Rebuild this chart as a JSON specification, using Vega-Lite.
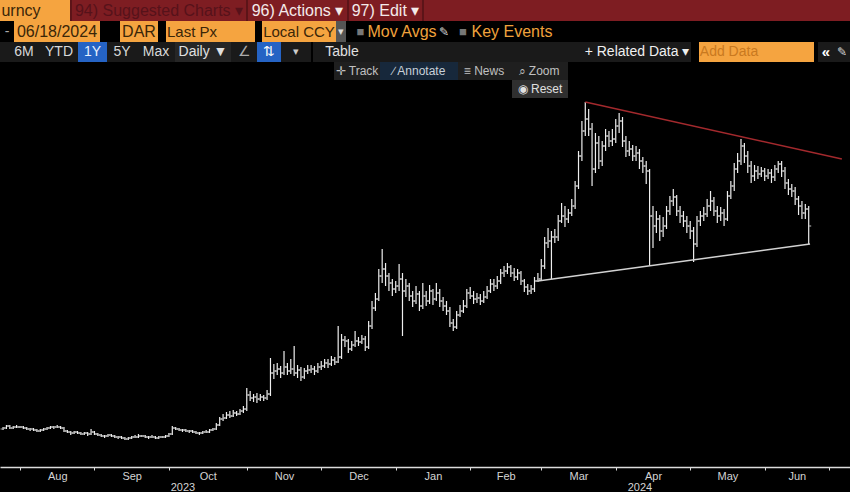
{
"$schema":"https://vega.github.io/schema/vega-lite/v6.json",
"background":"#000000","padding":0,"spacing":0,
"config":{"view":{"stroke":null},"concat":{"spacing":0},"text":{"font":"Liberation Sans"}},
"datasets":{
"bars":[
{"i":-5,"o":0.142,"h":0.144,"l":0.141,"c":0.143},{"i":-4,"o":0.143,"h":0.146,"l":0.142,"c":0.145},{"i":-3,"o":0.145,"h":0.146,"l":0.142,"c":0.143},{"i":-2,"o":0.143,"h":0.145,"l":0.142,"c":0.144},{"i":-1,"o":0.144,"h":0.146,"l":0.143,"c":0.144},
{"i":0,"o":0.144,"h":0.145,"l":0.143,"c":0.144},{"i":1,"o":0.144,"h":0.145,"l":0.142,"c":0.143},{"i":2,"o":0.143,"h":0.144,"l":0.141,"c":0.142},{"i":3,"o":0.142,"h":0.143,"l":0.140,"c":0.142},{"i":4,"o":0.142,"h":0.143,"l":0.140,"c":0.141},
{"i":5,"o":0.141,"h":0.142,"l":0.139,"c":0.140},{"i":6,"o":0.140,"h":0.142,"l":0.139,"c":0.141},{"i":7,"o":0.141,"h":0.143,"l":0.140,"c":0.142},{"i":8,"o":0.142,"h":0.144,"l":0.141,"c":0.143},{"i":9,"o":0.143,"h":0.145,"l":0.142,"c":0.144},
{"i":10,"o":0.144,"h":0.145,"l":0.142,"c":0.144},{"i":11,"o":0.144,"h":0.146,"l":0.143,"c":0.144},{"i":12,"o":0.144,"h":0.145,"l":0.142,"c":0.143},{"i":13,"o":0.143,"h":0.144,"l":0.139,"c":0.140},{"i":14,"o":0.140,"h":0.141,"l":0.138,"c":0.139},
{"i":15,"o":0.139,"h":0.140,"l":0.136,"c":0.138},{"i":16,"o":0.138,"h":0.140,"l":0.137,"c":0.139},{"i":17,"o":0.139,"h":0.140,"l":0.137,"c":0.138},{"i":18,"o":0.138,"h":0.139,"l":0.136,"c":0.137},{"i":19,"o":0.137,"h":0.139,"l":0.136,"c":0.138},
{"i":20,"o":0.138,"h":0.139,"l":0.135,"c":0.137},{"i":21,"o":0.137,"h":0.142,"l":0.136,"c":0.139},{"i":22,"o":0.139,"h":0.140,"l":0.136,"c":0.137},{"i":23,"o":0.137,"h":0.138,"l":0.135,"c":0.136},{"i":24,"o":0.136,"h":0.137,"l":0.134,"c":0.135},
{"i":25,"o":0.135,"h":0.136,"l":0.133,"c":0.135},{"i":26,"o":0.135,"h":0.137,"l":0.134,"c":0.136},{"i":27,"o":0.136,"h":0.137,"l":0.134,"c":0.135},{"i":28,"o":0.135,"h":0.136,"l":0.133,"c":0.134},{"i":29,"o":0.134,"h":0.135,"l":0.132,"c":0.134},
{"i":30,"o":0.134,"h":0.135,"l":0.132,"c":0.133},{"i":31,"o":0.133,"h":0.134,"l":0.131,"c":0.132},{"i":32,"o":0.132,"h":0.134,"l":0.131,"c":0.133},{"i":33,"o":0.133,"h":0.135,"l":0.132,"c":0.134},{"i":34,"o":0.134,"h":0.136,"l":0.133,"c":0.134},
{"i":35,"o":0.134,"h":0.137,"l":0.133,"c":0.135},{"i":36,"o":0.135,"h":0.136,"l":0.134,"c":0.135},{"i":37,"o":0.135,"h":0.136,"l":0.133,"c":0.134},{"i":38,"o":0.134,"h":0.135,"l":0.132,"c":0.134},{"i":39,"o":0.134,"h":0.136,"l":0.133,"c":0.134},
{"i":40,"o":0.134,"h":0.135,"l":0.132,"c":0.133},{"i":41,"o":0.133,"h":0.135,"l":0.132,"c":0.134},{"i":42,"o":0.134,"h":0.135,"l":0.133,"c":0.134},{"i":43,"o":0.134,"h":0.136,"l":0.133,"c":0.135},{"i":44,"o":0.135,"h":0.138,"l":0.134,"c":0.137},
{"i":45,"o":0.137,"h":0.145,"l":0.136,"c":0.143},{"i":46,"o":0.143,"h":0.144,"l":0.141,"c":0.142},{"i":47,"o":0.142,"h":0.143,"l":0.140,"c":0.141},{"i":48,"o":0.141,"h":0.142,"l":0.139,"c":0.141},{"i":49,"o":0.141,"h":0.142,"l":0.139,"c":0.140},
{"i":50,"o":0.140,"h":0.141,"l":0.138,"c":0.140},{"i":51,"o":0.140,"h":0.141,"l":0.138,"c":0.139},{"i":52,"o":0.139,"h":0.140,"l":0.137,"c":0.138},{"i":53,"o":0.138,"h":0.139,"l":0.136,"c":0.138},{"i":54,"o":0.138,"h":0.140,"l":0.137,"c":0.139},
{"i":55,"o":0.139,"h":0.141,"l":0.138,"c":0.139},{"i":56,"o":0.139,"h":0.142,"l":0.138,"c":0.141},{"i":57,"o":0.141,"h":0.143,"l":0.140,"c":0.142},{"i":58,"o":0.142,"h":0.148,"l":0.141,"c":0.146},{"i":59,"o":0.146,"h":0.154,"l":0.145,"c":0.152},
{"i":60,"o":0.152,"h":0.157,"l":0.150,"c":0.153},{"i":61,"o":0.153,"h":0.159,"l":0.152,"c":0.156},{"i":62,"o":0.156,"h":0.160,"l":0.153,"c":0.155},{"i":63,"o":0.155,"h":0.161,"l":0.154,"c":0.158},{"i":64,"o":0.158,"h":0.160,"l":0.155,"c":0.157},
{"i":65,"o":0.157,"h":0.162,"l":0.156,"c":0.160},{"i":66,"o":0.160,"h":0.165,"l":0.158,"c":0.162},{"i":67,"o":0.162,"h":0.183,"l":0.160,"c":0.176},{"i":68,"o":0.176,"h":0.180,"l":0.170,"c":0.173},{"i":69,"o":0.173,"h":0.177,"l":0.169,"c":0.174},
{"i":70,"o":0.174,"h":0.178,"l":0.168,"c":0.172},{"i":71,"o":0.172,"h":0.177,"l":0.170,"c":0.174},{"i":72,"o":0.174,"h":0.176,"l":0.170,"c":0.173},{"i":73,"o":0.173,"h":0.181,"l":0.171,"c":0.177},{"i":74,"o":0.177,"h":0.213,"l":0.175,"c":0.198},
{"i":75,"o":0.198,"h":0.207,"l":0.192,"c":0.200},{"i":76,"o":0.200,"h":0.208,"l":0.196,"c":0.202},{"i":77,"o":0.202,"h":0.205,"l":0.193,"c":0.198},{"i":78,"o":0.198,"h":0.220,"l":0.196,"c":0.204},{"i":79,"o":0.204,"h":0.208,"l":0.196,"c":0.200},
{"i":80,"o":0.200,"h":0.212,"l":0.197,"c":0.202},{"i":81,"o":0.202,"h":0.225,"l":0.195,"c":0.198},{"i":82,"o":0.198,"h":0.206,"l":0.193,"c":0.201},{"i":83,"o":0.201,"h":0.204,"l":0.190,"c":0.194},{"i":84,"o":0.194,"h":0.203,"l":0.192,"c":0.200},
{"i":85,"o":0.200,"h":0.206,"l":0.197,"c":0.201},{"i":86,"o":0.201,"h":0.206,"l":0.198,"c":0.202},{"i":87,"o":0.202,"h":0.205,"l":0.196,"c":0.200},{"i":88,"o":0.200,"h":0.208,"l":0.198,"c":0.204},{"i":89,"o":0.204,"h":0.210,"l":0.201,"c":0.205},
{"i":90,"o":0.205,"h":0.212,"l":0.203,"c":0.208},{"i":91,"o":0.208,"h":0.212,"l":0.203,"c":0.207},{"i":92,"o":0.207,"h":0.215,"l":0.205,"c":0.211},{"i":93,"o":0.211,"h":0.214,"l":0.206,"c":0.209},{"i":94,"o":0.209,"h":0.245,"l":0.208,"c":0.214},
{"i":95,"o":0.214,"h":0.237,"l":0.212,"c":0.231},{"i":96,"o":0.231,"h":0.235,"l":0.224,"c":0.230},{"i":97,"o":0.230,"h":0.232,"l":0.218,"c":0.222},{"i":98,"o":0.222,"h":0.230,"l":0.220,"c":0.226},{"i":99,"o":0.226,"h":0.240,"l":0.224,"c":0.230},
{"i":100,"o":0.230,"h":0.234,"l":0.225,"c":0.229},{"i":101,"o":0.229,"h":0.236,"l":0.227,"c":0.232},{"i":102,"o":0.232,"h":0.235,"l":0.220,"c":0.224},{"i":103,"o":0.224,"h":0.250,"l":0.222,"c":0.245},{"i":104,"o":0.245,"h":0.270,"l":0.242,"c":0.263},
{"i":105,"o":0.263,"h":0.278,"l":0.260,"c":0.272},{"i":106,"o":0.272,"h":0.302,"l":0.270,"c":0.295},{"i":107,"o":0.295,"h":0.322,"l":0.288,"c":0.302},{"i":108,"o":0.302,"h":0.308,"l":0.285,"c":0.295},{"i":109,"o":0.295,"h":0.298,"l":0.280,"c":0.288},
{"i":110,"o":0.288,"h":0.292,"l":0.275,"c":0.282},{"i":111,"o":0.282,"h":0.290,"l":0.278,"c":0.285},{"i":112,"o":0.285,"h":0.307,"l":0.280,"c":0.292},{"i":113,"o":0.292,"h":0.298,"l":0.235,"c":0.280},{"i":114,"o":0.280,"h":0.292,"l":0.274,"c":0.285},
{"i":115,"o":0.285,"h":0.288,"l":0.270,"c":0.275},{"i":116,"o":0.275,"h":0.280,"l":0.264,"c":0.270},{"i":117,"o":0.270,"h":0.285,"l":0.267,"c":0.277},{"i":118,"o":0.277,"h":0.280,"l":0.260,"c":0.265},{"i":119,"o":0.265,"h":0.288,"l":0.262,"c":0.275},
{"i":120,"o":0.275,"h":0.280,"l":0.265,"c":0.270},{"i":121,"o":0.270,"h":0.286,"l":0.267,"c":0.280},{"i":122,"o":0.280,"h":0.282,"l":0.266,"c":0.272},{"i":123,"o":0.272,"h":0.288,"l":0.270,"c":0.278},{"i":124,"o":0.278,"h":0.282,"l":0.264,"c":0.270},
{"i":125,"o":0.270,"h":0.274,"l":0.260,"c":0.265},{"i":126,"o":0.265,"h":0.270,"l":0.256,"c":0.260},{"i":127,"o":0.260,"h":0.264,"l":0.244,"c":0.248},{"i":128,"o":0.248,"h":0.252,"l":0.240,"c":0.244},{"i":129,"o":0.244,"h":0.260,"l":0.242,"c":0.256},
{"i":130,"o":0.256,"h":0.266,"l":0.254,"c":0.260},{"i":131,"o":0.260,"h":0.271,"l":0.258,"c":0.265},{"i":132,"o":0.265,"h":0.282,"l":0.263,"c":0.278},{"i":133,"o":0.278,"h":0.284,"l":0.272,"c":0.275},{"i":134,"o":0.275,"h":0.280,"l":0.267,"c":0.272},
{"i":135,"o":0.272,"h":0.278,"l":0.268,"c":0.273},{"i":136,"o":0.273,"h":0.277,"l":0.266,"c":0.270},{"i":137,"o":0.270,"h":0.280,"l":0.268,"c":0.274},{"i":138,"o":0.274,"h":0.285,"l":0.272,"c":0.280},{"i":139,"o":0.280,"h":0.292,"l":0.278,"c":0.287},
{"i":140,"o":0.287,"h":0.292,"l":0.280,"c":0.285},{"i":141,"o":0.285,"h":0.295,"l":0.282,"c":0.290},{"i":142,"o":0.290,"h":0.302,"l":0.287,"c":0.298},{"i":143,"o":0.298,"h":0.305,"l":0.294,"c":0.300},{"i":144,"o":0.300,"h":0.308,"l":0.297,"c":0.304},
{"i":145,"o":0.304,"h":0.306,"l":0.294,"c":0.298},{"i":146,"o":0.298,"h":0.303,"l":0.290,"c":0.294},{"i":147,"o":0.294,"h":0.302,"l":0.291,"c":0.298},{"i":148,"o":0.298,"h":0.300,"l":0.286,"c":0.290},{"i":149,"o":0.290,"h":0.292,"l":0.279,"c":0.284},
{"i":150,"o":0.284,"h":0.287,"l":0.276,"c":0.280},{"i":151,"o":0.280,"h":0.286,"l":0.277,"c":0.282},{"i":152,"o":0.282,"h":0.294,"l":0.279,"c":0.290},{"i":153,"o":0.290,"h":0.298,"l":0.289,"c":0.292},{"i":154,"o":0.292,"h":0.312,"l":0.291,"c":0.305},
{"i":155,"o":0.305,"h":0.334,"l":0.302,"c":0.328},{"i":156,"o":0.328,"h":0.343,"l":0.323,"c":0.330},{"i":157,"o":0.330,"h":0.340,"l":0.292,"c":0.334},{"i":158,"o":0.334,"h":0.342,"l":0.328,"c":0.334},{"i":159,"o":0.334,"h":0.356,"l":0.330,"c":0.350},
{"i":160,"o":0.350,"h":0.368,"l":0.348,"c":0.355},{"i":161,"o":0.355,"h":0.365,"l":0.344,"c":0.352},{"i":162,"o":0.352,"h":0.362,"l":0.348,"c":0.358},{"i":163,"o":0.358,"h":0.372,"l":0.355,"c":0.365},{"i":164,"o":0.365,"h":0.390,"l":0.362,"c":0.385},
{"i":165,"o":0.385,"h":0.420,"l":0.382,"c":0.415},{"i":166,"o":0.415,"h":0.450,"l":0.410,"c":0.440},{"i":167,"o":0.440,"h":0.469,"l":0.435,"c":0.452},{"i":168,"o":0.452,"h":0.462,"l":0.435,"c":0.442},{"i":169,"o":0.442,"h":0.448,"l":0.385,"c":0.402},
{"i":170,"o":0.402,"h":0.438,"l":0.398,"c":0.428},{"i":171,"o":0.428,"h":0.435,"l":0.402,"c":0.410},{"i":172,"o":0.410,"h":0.430,"l":0.405,"c":0.425},{"i":173,"o":0.425,"h":0.442,"l":0.420,"c":0.435},{"i":174,"o":0.435,"h":0.440,"l":0.424,"c":0.430},
{"i":175,"o":0.430,"h":0.442,"l":0.425,"c":0.432},{"i":176,"o":0.432,"h":0.452,"l":0.428,"c":0.445},{"i":177,"o":0.445,"h":0.458,"l":0.438,"c":0.450},{"i":178,"o":0.450,"h":0.454,"l":0.424,"c":0.430},{"i":179,"o":0.430,"h":0.435,"l":0.414,"c":0.420},
{"i":180,"o":0.420,"h":0.430,"l":0.415,"c":0.422},{"i":181,"o":0.422,"h":0.426,"l":0.410,"c":0.415},{"i":182,"o":0.415,"h":0.425,"l":0.410,"c":0.418},{"i":183,"o":0.418,"h":0.422,"l":0.402,"c":0.410},{"i":184,"o":0.410,"h":0.414,"l":0.398,"c":0.405},
{"i":185,"o":0.405,"h":0.410,"l":0.387,"c":0.400},{"i":186,"o":0.400,"h":0.402,"l":0.305,"c":0.355},{"i":187,"o":0.355,"h":0.365,"l":0.323,"c":0.345},{"i":188,"o":0.345,"h":0.360,"l":0.338,"c":0.352},{"i":189,"o":0.352,"h":0.356,"l":0.330,"c":0.340},
{"i":190,"o":0.340,"h":0.354,"l":0.334,"c":0.345},{"i":191,"o":0.345,"h":0.365,"l":0.342,"c":0.360},{"i":192,"o":0.360,"h":0.375,"l":0.356,"c":0.370},{"i":193,"o":0.370,"h":0.382,"l":0.365,"c":0.374},{"i":194,"o":0.374,"h":0.376,"l":0.355,"c":0.360},
{"i":195,"o":0.360,"h":0.365,"l":0.348,"c":0.355},{"i":196,"o":0.355,"h":0.360,"l":0.344,"c":0.350},{"i":197,"o":0.350,"h":0.355,"l":0.338,"c":0.345},{"i":198,"o":0.345,"h":0.350,"l":0.332,"c":0.340},{"i":199,"o":0.340,"h":0.344,"l":0.309,"c":0.327},
{"i":200,"o":0.327,"h":0.355,"l":0.324,"c":0.350},{"i":201,"o":0.350,"h":0.360,"l":0.345,"c":0.355},{"i":202,"o":0.355,"h":0.364,"l":0.350,"c":0.357},{"i":203,"o":0.357,"h":0.372,"l":0.354,"c":0.365},{"i":204,"o":0.365,"h":0.380,"l":0.360,"c":0.370},
{"i":205,"o":0.370,"h":0.374,"l":0.355,"c":0.360},{"i":206,"o":0.360,"h":0.365,"l":0.348,"c":0.355},{"i":207,"o":0.355,"h":0.364,"l":0.350,"c":0.358},{"i":208,"o":0.358,"h":0.362,"l":0.345,"c":0.352},{"i":209,"o":0.352,"h":0.380,"l":0.350,"c":0.375},
{"i":210,"o":0.375,"h":0.390,"l":0.372,"c":0.385},{"i":211,"o":0.385,"h":0.408,"l":0.380,"c":0.402},{"i":212,"o":0.402,"h":0.418,"l":0.398,"c":0.410},{"i":213,"o":0.410,"h":0.432,"l":0.406,"c":0.425},{"i":214,"o":0.425,"h":0.428,"l":0.408,"c":0.415},
{"i":215,"o":0.415,"h":0.420,"l":0.398,"c":0.405},{"i":216,"o":0.405,"h":0.410,"l":0.388,"c":0.395},{"i":217,"o":0.395,"h":0.406,"l":0.390,"c":0.400},{"i":218,"o":0.400,"h":0.405,"l":0.392,"c":0.397},{"i":219,"o":0.397,"h":0.404,"l":0.394,"c":0.400},
{"i":220,"o":0.400,"h":0.403,"l":0.390,"c":0.395},{"i":221,"o":0.395,"h":0.402,"l":0.392,"c":0.398},{"i":222,"o":0.398,"h":0.402,"l":0.388,"c":0.394},{"i":223,"o":0.394,"h":0.406,"l":0.390,"c":0.402},{"i":224,"o":0.402,"h":0.410,"l":0.398,"c":0.407},
{"i":225,"o":0.407,"h":0.410,"l":0.394,"c":0.400},{"i":226,"o":0.400,"h":0.404,"l":0.382,"c":0.388},{"i":227,"o":0.388,"h":0.392,"l":0.376,"c":0.382},{"i":228,"o":0.382,"h":0.387,"l":0.374,"c":0.380},{"i":229,"o":0.380,"h":0.384,"l":0.366,"c":0.372},
{"i":230,"o":0.372,"h":0.375,"l":0.356,"c":0.365},{"i":231,"o":0.365,"h":0.370,"l":0.352,"c":0.358},{"i":232,"o":0.358,"h":0.367,"l":0.352,"c":0.362},{"i":233,"o":0.362,"h":0.365,"l":0.327,"c":0.345}
],
"lines":[{"s":"resistance","i":167,"p":0.469},{"s":"resistance","i":242.8,"p":0.412},{"s":"support","i":153,"p":0.290},{"s":"support","i":233.4,"p":0.327}]
},
"vconcat":[
{"hconcat":[
{"width":42,"height":21,"view":{"fill":"#f5a440","stroke":null},"data":{"values":[{"t":"urncy"}]},"mark":{"type":"text","fontSize":16,"color":"#3a2608"},"encoding":{"text":{"field":"t"}}},
{"width":28,"height":21,"view":{"fill":"#f5a440","stroke":null},"data":{"values":[{"t":""}]},"mark":{"type":"text"},"encoding":{"text":{"field":"t"}}},
{"width":2,"height":21,"view":{"fill":"#5c1418","stroke":null},"data":{"values":[{"t":""}]},"mark":{"type":"text"},"encoding":{"text":{"field":"t"}}},
{"width":174,"height":21,"view":{"fill":"#7e1d22","stroke":null},"data":{"values":[{"t":"94) Suggested Charts ▾"}]},"mark":{"type":"text","fontSize":16,"color":"#56121a"},"encoding":{"text":{"field":"t"}}},
{"width":2,"height":21,"view":{"fill":"#5c1418","stroke":null},"data":{"values":[{"t":""}]},"mark":{"type":"text"},"encoding":{"text":{"field":"t"}}},
{"width":99,"height":21,"view":{"fill":"#7e1d22","stroke":null},"data":{"values":[{"t":"96) Actions ▾"}]},"mark":{"type":"text","fontSize":16,"color":"#f4eaea"},"encoding":{"text":{"field":"t"}}},
{"width":2,"height":21,"view":{"fill":"#5c1418","stroke":null},"data":{"values":[{"t":""}]},"mark":{"type":"text"},"encoding":{"text":{"field":"t"}}},
{"width":73,"height":21,"view":{"fill":"#7e1d22","stroke":null},"data":{"values":[{"t":"97) Edit ▾"}]},"mark":{"type":"text","fontSize":16,"color":"#f4eaea"},"encoding":{"text":{"field":"t"}}},
{"width":2,"height":21,"view":{"fill":"#5c1418","stroke":null},"data":{"values":[{"t":""}]},"mark":{"type":"text"},"encoding":{"text":{"field":"t"}}},
{"width":426,"height":21,"view":{"fill":"#7e1d22","stroke":null},"data":{"values":[{"t":""}]},"mark":{"type":"text"},"encoding":{"text":{"field":"t"}}}
],"spacing":0},
{"hconcat":[
{"width":14,"height":21,"data":{"values":[{"t":"-"}]},"mark":{"type":"text","fontSize":14,"color":"#aaaaaa"},"encoding":{"text":{"field":"t"}}},
{"width":86,"height":21,"view":{"fill":"#f5a440","stroke":null},"data":{"values":[{"t":"06/18/2024"}]},"mark":{"type":"text","fontSize":16,"color":"#3a2608"},"encoding":{"text":{"field":"t"}}},
{"width":20,"height":21,"data":{"values":[{"t":""}]},"mark":{"type":"text"},"encoding":{"text":{"field":"t"}}},
{"width":38,"height":21,"view":{"fill":"#f5a440","stroke":null},"data":{"values":[{"t":"DAR"}]},"mark":{"type":"text","fontSize":16,"color":"#3a2608"},"encoding":{"text":{"field":"t"}}},
{"width":8,"height":21,"data":{"values":[{"t":""}]},"mark":{"type":"text"},"encoding":{"text":{"field":"t"}}},
{"width":52,"height":21,"view":{"fill":"#f5a440","stroke":null},"data":{"values":[{"t":"Last Px"}]},"mark":{"type":"text","fontSize":15,"color":"#3a2608"},"encoding":{"text":{"field":"t"}}},
{"width":37,"height":21,"view":{"fill":"#f5a440","stroke":null},"data":{"values":[{"t":""}]},"mark":{"type":"text"},"encoding":{"text":{"field":"t"}}},
{"width":7,"height":21,"data":{"values":[{"t":""}]},"mark":{"type":"text"},"encoding":{"text":{"field":"t"}}},
{"width":74,"height":21,"view":{"fill":"#f5a440","stroke":null},"data":{"values":[{"t":"Local CCY"}]},"mark":{"type":"text","fontSize":15,"color":"#3a2608"},"encoding":{"text":{"field":"t"}}},
{"width":10,"height":21,"view":{"fill":"#555555","stroke":null},"data":{"values":[{"t":"▾"}]},"mark":{"type":"text","fontSize":11,"color":"#dddddd"},"encoding":{"text":{"field":"t"}}},
{"width":9,"height":21,"data":{"values":[{"t":""}]},"mark":{"type":"text"},"encoding":{"text":{"field":"t"}}},
{"width":11,"height":21,"data":{"values":[{"t":"■"}]},"mark":{"type":"text","fontSize":13,"color":"#777777"},"encoding":{"text":{"field":"t"}}},
{"width":72,"height":21,"data":{"values":[{"t":"Mov Avgs"}]},"mark":{"type":"text","fontSize":16,"color":"#f0a23c"},"encoding":{"text":{"field":"t"}}},
{"width":12,"height":21,"data":{"values":[{"t":"✎"}]},"mark":{"type":"text","fontSize":12,"color":"#dddddd"},"encoding":{"text":{"field":"t"}}},
{"width":5,"height":21,"data":{"values":[{"t":""}]},"mark":{"type":"text"},"encoding":{"text":{"field":"t"}}},
{"width":16,"height":21,"data":{"values":[{"t":"■"}]},"mark":{"type":"text","fontSize":13,"color":"#777777"},"encoding":{"text":{"field":"t"}}},
{"width":82,"height":21,"data":{"values":[{"t":"Key Events"}]},"mark":{"type":"text","fontSize":16,"color":"#f0a23c"},"encoding":{"text":{"field":"t"}}},
{"width":297,"height":21,"data":{"values":[{"t":""}]},"mark":{"type":"text"},"encoding":{"text":{"field":"t"}}}
],"spacing":0},
{"hconcat":[
{"width":8,"height":20,"view":{"fill":"#1a1a1a","stroke":null},"data":{"values":[{"t":""}]},"mark":{"type":"text"},"encoding":{"text":{"field":"t"}}},
{"width":32,"height":20,"view":{"fill":"#1a1a1a","stroke":null},"data":{"values":[{"t":"6M"}]},"mark":{"type":"text","fontSize":14,"color":"#d8d8d8"},"encoding":{"text":{"field":"t"}}},
{"width":38,"height":20,"view":{"fill":"#1a1a1a","stroke":null},"data":{"values":[{"t":"YTD"}]},"mark":{"type":"text","fontSize":14,"color":"#d8d8d8"},"encoding":{"text":{"field":"t"}}},
{"width":29,"height":20,"view":{"fill":"#2563c4","stroke":null},"data":{"values":[{"t":"1Y"}]},"mark":{"type":"text","fontSize":14,"color":"#e8f0ff"},"encoding":{"text":{"field":"t"}}},
{"width":30,"height":20,"view":{"fill":"#1a1a1a","stroke":null},"data":{"values":[{"t":"5Y"}]},"mark":{"type":"text","fontSize":14,"color":"#d8d8d8"},"encoding":{"text":{"field":"t"}}},
{"width":38,"height":20,"view":{"fill":"#1a1a1a","stroke":null},"data":{"values":[{"t":"Max"}]},"mark":{"type":"text","fontSize":14,"color":"#d8d8d8"},"encoding":{"text":{"field":"t"}}},
{"width":56,"height":20,"view":{"fill":"#262626","stroke":null},"data":{"values":[{"t":"Daily ▼"}]},"mark":{"type":"text","fontSize":14,"color":"#e0e0e0"},"encoding":{"text":{"field":"t"}}},
{"width":26,"height":20,"view":{"fill":"#1a1a1a","stroke":null},"data":{"values":[{"t":"∠"}]},"mark":{"type":"text","fontSize":14,"color":"#aaaaaa"},"encoding":{"text":{"field":"t"}}},
{"width":24,"height":20,"view":{"fill":"#2563c4","stroke":null},"data":{"values":[{"t":"⇅"}]},"mark":{"type":"text","fontSize":14,"color":"#ffffff"},"encoding":{"text":{"field":"t"}}},
{"width":30,"height":20,"view":{"fill":"#1a1a1a","stroke":null},"data":{"values":[{"t":"▾"}]},"mark":{"type":"text","fontSize":11,"color":"#cccccc"},"encoding":{"text":{"field":"t"}}},
{"width":2,"height":20,"view":{"fill":"#000000","stroke":null},"data":{"values":[{"t":""}]},"mark":{"type":"text"},"encoding":{"text":{"field":"t"}}},
{"width":58,"height":20,"view":{"fill":"#1a1a1a","stroke":null},"data":{"values":[{"t":"Table"}]},"mark":{"type":"text","fontSize":14,"color":"#e0e0e0"},"encoding":{"text":{"field":"t"}}},
{"width":212,"height":20,"view":{"fill":"#1a1a1a","stroke":null},"data":{"values":[{"t":""}]},"mark":{"type":"text"},"encoding":{"text":{"field":"t"}}},
{"width":108,"height":20,"view":{"fill":"#1a1a1a","stroke":null},"data":{"values":[{"t":"+ Related Data ▾"}]},"mark":{"type":"text","fontSize":14,"color":"#f0f0f0"},"encoding":{"text":{"field":"t"}}},
{"width":8,"height":20,"view":{"fill":"#000000","stroke":null},"data":{"values":[{"t":""}]},"mark":{"type":"text"},"encoding":{"text":{"field":"t"}}},
{"width":60,"height":20,"view":{"fill":"#f5a440","stroke":null},"data":{"values":[{"t":"Add Data"}]},"mark":{"type":"text","fontSize":14,"color":"#c9791f"},"encoding":{"text":{"field":"t"}}},
{"width":55,"height":20,"view":{"fill":"#f5a440","stroke":null},"data":{"values":[{"t":""}]},"mark":{"type":"text"},"encoding":{"text":{"field":"t"}}},
{"width":4,"height":20,"view":{"fill":"#000000","stroke":null},"data":{"values":[{"t":""}]},"mark":{"type":"text"},"encoding":{"text":{"field":"t"}}},
{"width":16,"height":20,"view":{"fill":"#1a1a1a","stroke":null},"data":{"values":[{"t":"«"}]},"mark":{"type":"text","fontSize":15,"fontWeight":"bold","color":"#ffffff"},"encoding":{"text":{"field":"t"}}},
{"width":16,"height":20,"view":{"fill":"#1a1a1a","stroke":null},"data":{"values":[{"t":"✎"}]},"mark":{"type":"text","fontSize":12,"color":"#dddddd"},"encoding":{"text":{"field":"t"}}}
],"spacing":0},
{"hconcat":[
{"width":334,"height":18,"data":{"values":[{"t":""}]},"mark":{"type":"text"},"encoding":{"text":{"field":"t"}}},
{"width":46,"height":18,"view":{"fill":"#1f1f1f","stroke":null},"data":{"values":[{"t":"✛ Track"}]},"mark":{"type":"text","fontSize":12,"color":"#c0c0c0"},"encoding":{"text":{"field":"t"}}},
{"width":78,"height":18,"view":{"fill":"#17283b","stroke":null},"data":{"values":[{"t":"∕ Annotate"}]},"mark":{"type":"text","fontSize":12,"color":"#c8d0d8"},"encoding":{"text":{"field":"t"}}},
{"width":52,"height":18,"view":{"fill":"#1f1f1f","stroke":null},"data":{"values":[{"t":"≡ News"}]},"mark":{"type":"text","fontSize":12,"color":"#c0c0c0"},"encoding":{"text":{"field":"t"}}},
{"width":58,"height":18,"view":{"fill":"#1f1f1f","stroke":null},"data":{"values":[{"t":"⌕ Zoom"}]},"mark":{"type":"text","fontSize":12,"color":"#c0c0c0"},"encoding":{"text":{"field":"t"}}},
{"width":282,"height":18,"data":{"values":[{"t":""}]},"mark":{"type":"text"},"encoding":{"text":{"field":"t"}}}
],"spacing":0},
{"hconcat":[
{"width":512,"height":18,"data":{"values":[{"t":""}]},"mark":{"type":"text"},"encoding":{"text":{"field":"t"}}},
{"width":56,"height":18,"view":{"fill":"#2f2f2f","stroke":null},"data":{"values":[{"t":"◉ Reset"}]},"mark":{"type":"text","fontSize":12,"color":"#e0e0e0"},"encoding":{"text":{"field":"t"}}},
{"width":282,"height":18,"data":{"values":[{"t":""}]},"mark":{"type":"text"},"encoding":{"text":{"field":"t"}}}
],"spacing":0},
{"width":850,"height":368,
"encoding":{"x":{"field":"i","type":"quantitative","scale":{"domain":[-5.9,245.2],"nice":false,"zero":false},
"axis":{"title":null,"grid":false,"values":[0,22,44,67,89,111,133,154,176,198,220,239,11,33,55.5,78,100,122,143.5,165,187,209,229.5,48,183],
"labelExpr":"datum.value==11?'Aug':datum.value==33?'Sep':datum.value==55.5?'Oct':datum.value==78?'Nov':datum.value==100?'Dec':datum.value==122?'Jan':datum.value==143.5?'Feb':datum.value==165?'Mar':datum.value==187?'Apr':datum.value==209?'May':datum.value==229.5?'Jun':datum.value==48?['','2023']:datum.value==183?['','2024']:''",
"labelOverlap":false,"labelFlush":false,"labelBound":false,"labelColor":"#d4d4d4","labelFont":"Liberation Sans","labelFontSize":11,"labelPadding":0,"labelLineHeight":11,
"domainColor":"#dcdcdc","domainWidth":1.5,"tickColor":"#dcdcdc","tickSize":3,
"tickDash":{"condition":{"test":"datum.value == 111","value":[3,11,14]},"value":[]},
"tickOpacity":{"condition":{"test":"indexof([0,22,44,67,89,111,133,154,176,198,220,239], datum.value) >= 0","value":1},"value":0}}}},
"layer":[
{"data":{"name":"bars"},"mark":{"type":"rule","color":"#eeeeee","strokeWidth":1.2},
"encoding":{"y":{"field":"l","type":"quantitative","scale":{"domain":[0.104,0.472],"nice":false,"zero":false},"axis":null},"y2":{"field":"h"}}},
{"data":{"name":"bars"},"mark":{"type":"tick","orient":"horizontal","color":"#eeeeee","size":2,"thickness":1.2,"xOffset":-1.5},
"encoding":{"y":{"field":"o","type":"quantitative","scale":{"domain":[0.104,0.472],"nice":false,"zero":false},"axis":null}}},
{"data":{"name":"bars"},"mark":{"type":"tick","orient":"horizontal","color":"#eeeeee","size":2,"thickness":1.2,"xOffset":1.5},
"encoding":{"y":{"field":"c","type":"quantitative","scale":{"domain":[0.104,0.472],"nice":false,"zero":false},"axis":null}}},
{"data":{"name":"lines"},"mark":{"type":"line","strokeWidth":1.5},
"encoding":{"y":{"field":"p","type":"quantitative","scale":{"domain":[0.104,0.472],"nice":false,"zero":false},"axis":null},
"color":{"field":"s","type":"nominal","scale":{"domain":["resistance","support"],"range":["#a3292d","#d2d2d2"]},"legend":null}}}
]}
]}
